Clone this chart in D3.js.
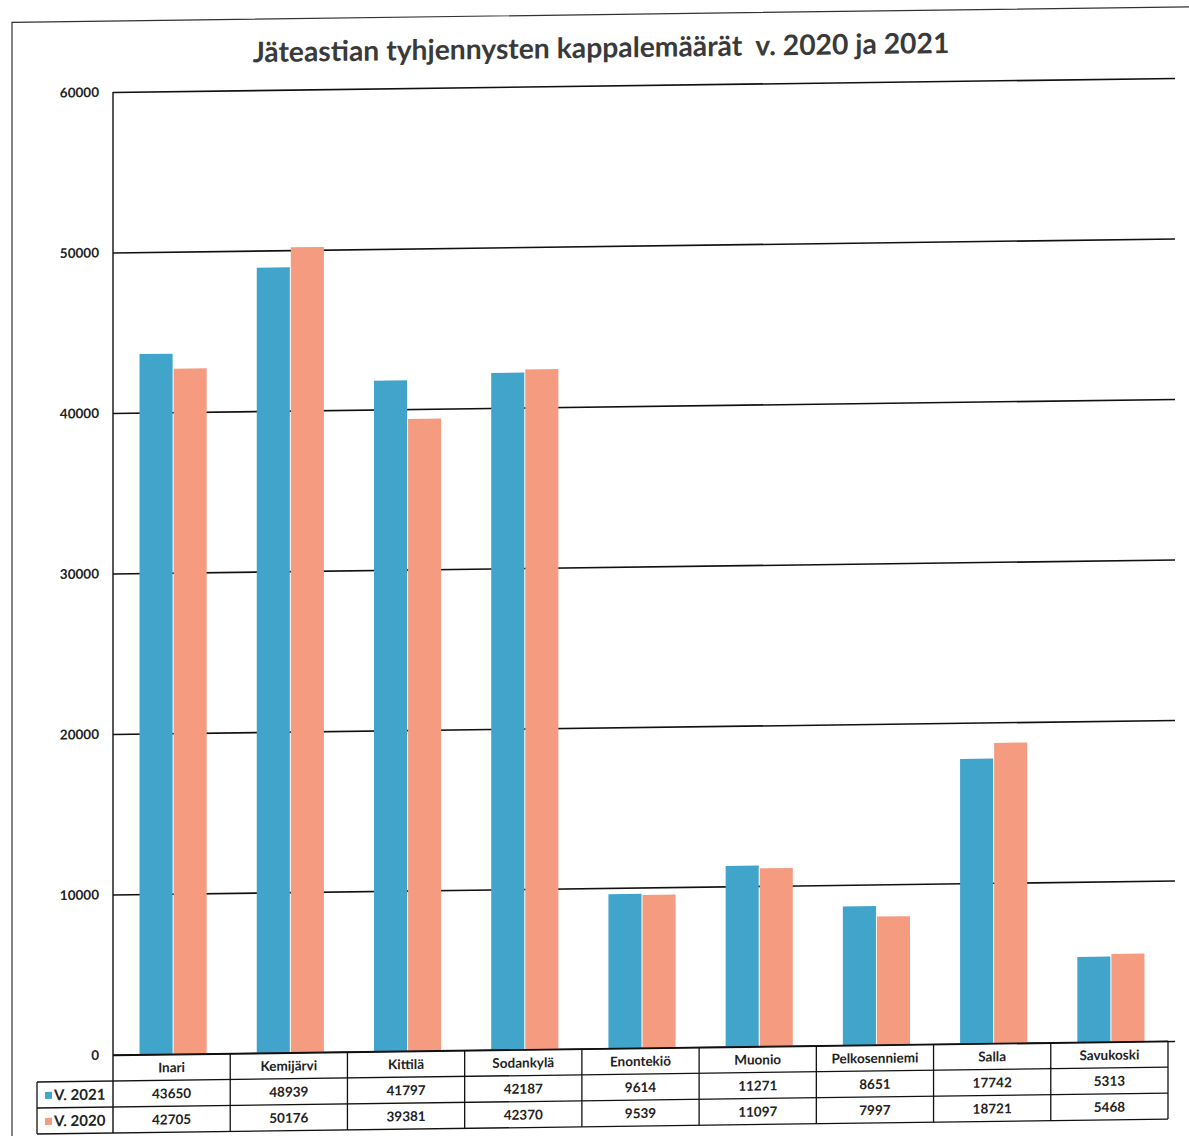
<!DOCTYPE html>
<html>
<head>
<meta charset="utf-8">
<script src="https://cdn.jsdelivr.net/npm/d3@7"></script>
<style>
  html, body { margin: 0; padding: 0; background: #fff; }
  svg { display: block; }
  text { font-family: Lato, "Open Sans", sans-serif; fill: #222; }
</style>
</head>
<body>
<script>
//========================== Data ================================

const categories = ['Inari', 'Kemijärvi', 'Kittilä', 'Sodankylä', 'Enontekiö', 'Muonio', 'Pelkosenniemi', 'Salla', 'Savukoski'];
const seriesNames = ['V. 2021', 'V. 2020'];
const values2021 = [43650, 48939, 41797, 42187, 9614, 11271, 8651, 17742, 5313];
const values2020 = [42705, 50176, 39381, 42370, 9539, 11097, 7997, 18721, 5468];
const yTicks = [0, 10000, 20000, 30000, 40000, 50000, 60000];
const titleText = 'Jäteastian tyhjennysten kappalemäärät  v. 2020 ja 2021';

const colors = { 'V. 2021': '#41a4cb', 'V. 2020': '#f49b80' };

//========================== Layout ================================

(function() {

  let W = 1189, H = 1136,
      left = 113, right = 1168,
      top = 92, zero = 1055,
      rowH = 26,
      labelColX = 37,
      barShift = 2,
      skew = 0.0132   // the scan slopes up to the right

  let svg = d3.select('body').append('svg')
    .attr('width', W)
    .attr('height', H)

  // whole page sheared a little, like the scanned sheet
  let g = svg.append('g')
    .attr('transform', `matrix(1, ${-skew}, 0, 1, 0, ${left * skew})`)

  // outer frame
  g.append('rect')
    .attr('x', 12).attr('y', 21)
    .attr('width', 1200).attr('height', 1140)
    .attr('fill', 'none')
    .attr('stroke', '#333')
    .attr('stroke-width', 1.2)

  let x0 = d3.scaleBand()
    .domain(categories)
    .range([left, right])
    .padding(0)

  let x1 = d3.scaleBand()
    .domain(seriesNames)
    .range([barShift, x0.bandwidth() + barShift])
    .paddingInner(0)
    .paddingOuter(0.72)

  let y = d3.scaleLinear()
    .domain([0, 60000])
    .range([zero, top])

  // title, stretched to the width it has in the picture
  let title = g.append('text')
    .attr('x', 601)
    .attr('y', 64)
    .attr('text-anchor', 'middle')
    .style('font-size', '25px')
    .style('font-weight', 700)
    .style('fill', '#3a3a3a')
    .style('white-space', 'pre')
    .text(titleText)
  let tw = title.node().getComputedTextLength()
  title.style('font-size', `${25 * 697 / tw}px`)

  // y axis with gridlines
  let yAxis = d3.axisLeft(y)
    .tickValues(yTicks)
    .tickFormat(d3.format('d'))
    .tickSizeInner(-(right + 7 - left))
    .tickSizeOuter(0)
    .tickPadding(14)

  let ax = g.append('g')
    .attr('transform', `translate(${left},0)`)
    .call(yAxis)
  ax.select('.domain').remove()
  ax.selectAll('.tick line')
    .attr('stroke', '#111')
    .attr('stroke-width', 1.6)
  ax.selectAll('.tick text')
    .style('font-family', 'Lato, sans-serif')
    .style('font-size', '13.5px')
    .style('font-weight', 700)
    .style('fill', '#222')

  // vertical axis line, running down into the table
  g.append('line')
    .attr('x1', left).attr('x2', left)
    .attr('y1', top).attr('y2', zero + rowH * 3)
    .attr('stroke', '#111')
    .attr('stroke-width', 1.4)

  // bars
  let rows = seriesNames.map((s, i) => ({ name: s, values: i === 0 ? values2021 : values2020 }))

  let groups = g.append('g').selectAll('g')
    .data(categories)
    .join('g')
    .attr('transform', d => `translate(${x0(d)},0)`)

  groups.selectAll('rect')
    .data((d, i) => rows.map(r => ({ key: r.name, value: r.values[i] })))
    .join('rect')
    .attr('x', d => x1(d.key))
    .attr('y', d => y(d.value))
    .attr('width', x1.bandwidth() - 1)
    .attr('height', d => y(0) - y(d.value))
    .attr('fill', d => colors[d.key])

  //========================== Data table ================================

  let table = g.append('g')
    .attr('fill', 'none')
    .attr('stroke', '#111')
    .attr('stroke-width', 1.3)

  // horizontal lines
  table.append('line')
    .attr('x1', left).attr('x2', right)
    .attr('y1', zero).attr('y2', zero)
  d3.range(1, 4).forEach(i => {
    table.append('line')
      .attr('x1', labelColX).attr('x2', right)
      .attr('y1', zero + rowH * i).attr('y2', zero + rowH * i)
  })
  // vertical lines
  categories.forEach(c => {
    table.append('line')
      .attr('x1', x0(c) + x0.bandwidth()).attr('x2', x0(c) + x0.bandwidth())
      .attr('y1', zero).attr('y2', zero + rowH * 3)
  })
  table.append('line')
    .attr('x1', labelColX).attr('x2', labelColX)
    .attr('y1', zero + rowH).attr('y2', zero + rowH * 3)

  let cellText = (sel) => sel
    .attr('text-anchor', 'middle')
    .style('font-size', '13.5px')
    .style('font-weight', 700)

  // category names
  g.append('g').selectAll('text')
    .data(categories)
    .join('text')
    .attr('x', d => x0(d) + x0.bandwidth() / 2)
    .attr('y', zero + rowH / 2 + 5)
    .call(cellText)
    .text(d => d)

  // value rows with legend keys
  rows.forEach((r, i) => {
    let cy = zero + rowH * (i + 1) + rowH / 2

    g.append('g').selectAll('text')
      .data(r.values)
      .join('text')
      .attr('x', (d, j) => x0(categories[j]) + x0.bandwidth() / 2)
      .attr('y', cy + 5)
      .call(cellText)
      .text(d => d)

    g.append('rect')
      .attr('x', labelColX + 8)
      .attr('y', cy - 3)
      .attr('width', 7)
      .attr('height', 7)
      .attr('fill', colors[r.name])

    g.append('text')
      .attr('x', labelColX + 17)
      .attr('y', cy + 5.5)
      .style('font-size', '15px')
      .style('font-weight', 700)
      .style('white-space', 'pre')
      .text(r.name)
  })

})()
</script>
</body>
</html>
